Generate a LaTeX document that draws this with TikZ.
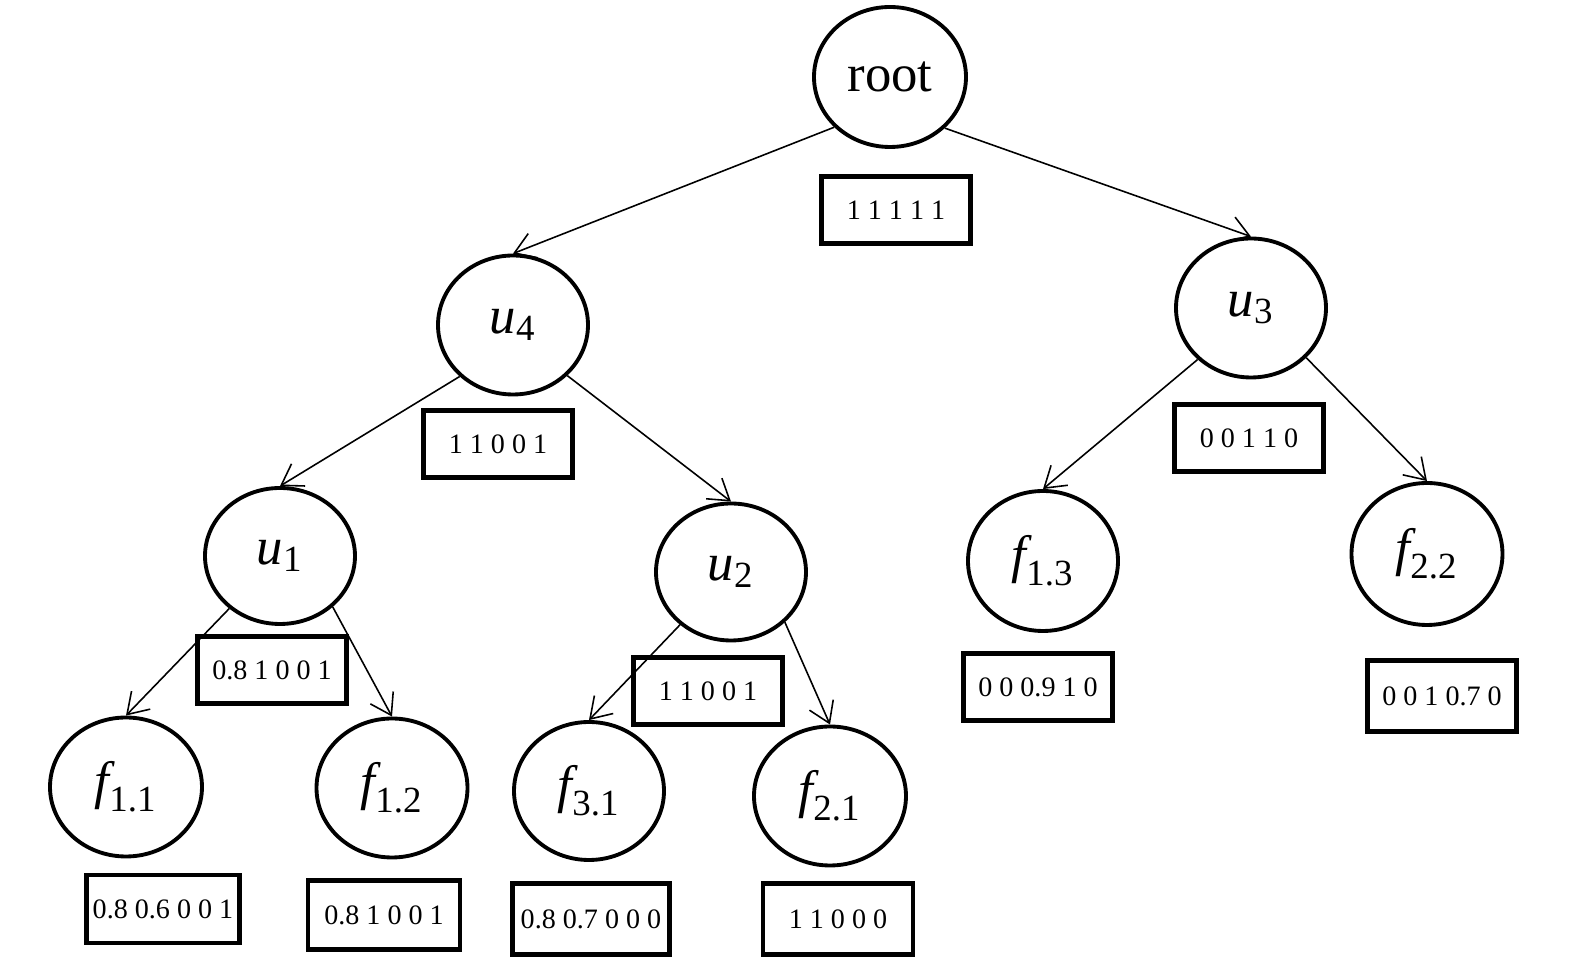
\documentclass[tikz,border=0pt]{standalone}
\usepackage{amsmath}
\usepackage{fontspec}
\setmainfont{Liberation Serif}
\usetikzlibrary{shapes.geometric,arrows.meta}
\begin{document}
\begin{tikzpicture}[>={Straight Barb[length=2mm,width=2.6mm]},
    no/.style={draw, ellipse, line width=1.1pt, minimum width=1.5cm, minimum height=1.39cm, inner sep=0pt, font=\fontsize{15}{18}\selectfont},
    vetor/.style={draw, rectangle, line width=1.3pt, minimum width=1.49cm, minimum height=0.67cm, inner sep=1pt, font=\fontsize{8}{10}\selectfont},
    aresta/.style={->, line width=0.45pt}]
\useasboundingbox (0,0) rectangle (15.75,-9.65);
% Raiz
\node[no, minimum width=1.52cm, minimum height=1.4cm] (root) at (8.90,-0.77) {root};
\node[vetor] (vroot) at (8.96,-2.10) {1 1 1 1 1};
% Segundo nivel
\node[no] (u4) at (5.13,-3.25) {$\textit{u}_{\text{4}}$};
\node[vetor] (vu4) at (4.98,-4.44) {1 1 0 0 1};
\node[no] (u3) at (12.51,-3.08) {$\textit{u}_{\text{3}}$};
\node[vetor] (vu3) at (12.49,-4.38) {0 0 1 1 0};
% Terceiro nivel
\node[no, minimum height=1.36cm] (u1) at (2.80,-5.56) {$\textit{u}_{\text{1}}$};
\node[vetor] (vu1) at (2.72,-6.70) {0.8 1 0 0 1};
\node[no, minimum height=1.37cm] (u2) at (7.31,-5.72) {$\textit{u}_{\text{2}}$};
\node[vetor] (vu2) at (7.08,-6.91) {1 1 0 0 1};
\node[no, minimum height=1.4cm] (f13) at (10.43,-5.61) {$\textit{f}_{\text{1.3}}$};
\node[vetor] (vf13) at (10.38,-6.87) {0 0 0.9 1 0};
\node[no, minimum width=1.51cm, minimum height=1.42cm] (f22) at (14.27,-5.54) {$\textit{f}_{\text{2.2}}$};
\node[vetor, minimum height=0.71cm] (vf22) at (14.42,-6.96) {0 0 1 0.7 0};
% Folhas
\node[no, minimum width=1.52cm] (f11) at (1.26,-7.87) {$\textit{f}_{\text{1.1}}$};
\node[vetor, minimum width=1.53cm, minimum height=0.68cm] (vf11) at (1.63,-9.09) {0.8 0.6 0 0 1};
\node[no, minimum width=1.51cm] (f12) at (3.92,-7.88) {$\textit{f}_{\text{1.2}}$};
\node[vetor, minimum width=1.52cm, minimum height=0.69cm] (vf12) at (3.84,-9.15) {0.8 1 0 0 1};
\node[no, minimum height=1.38cm] (f31) at (5.89,-7.91) {$\textit{f}_{\text{3.1}}$};
\node[vetor, minimum width=1.57cm, minimum height=0.71cm] (vf31) at (5.91,-9.19) {0.8 0.7 0 0 0};
\node[no, minimum width=1.52cm] (f21) at (8.30,-7.96) {$\textit{f}_{\text{2.1}}$};
\node[vetor, minimum width=1.5cm, minimum height=0.71cm] (vf21) at (8.38,-9.19) {1 1 0 0 0};
% Arestas
\draw[aresta] (root.-138) -- (u4.north);
\draw[aresta] (root.-43) -- (u3.north);
\draw[aresta] (u4.-136) -- (u1.north);
\draw[aresta] (u4.-43) -- (u2.north);
\draw[aresta] (u1.-134) -- (f11.north);
\draw[aresta] (u1.-44) -- (f12.north);
\draw[aresta] (u2.-134) -- (f31.north);
\draw[aresta] (u2.-43) -- (f21.north);
\draw[aresta] (u3.-136) -- (f13.north);
\draw[aresta] (u3.-42) -- (f22.north);
\end{tikzpicture}
\end{document}
